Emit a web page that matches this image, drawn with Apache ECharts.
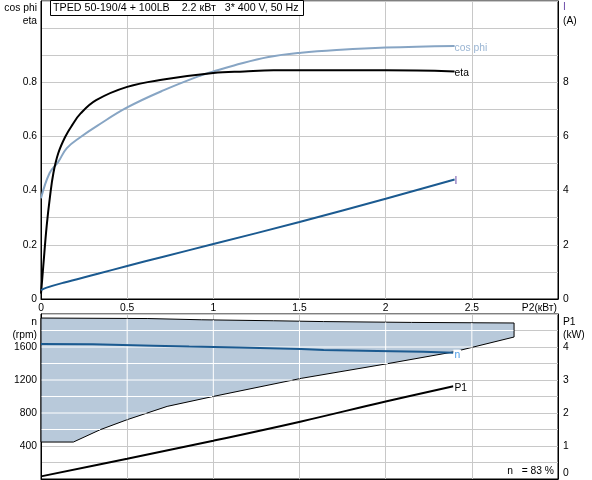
<!DOCTYPE html>
<html>
<head>
<meta charset="utf-8">
<script src="https://cdn.jsdelivr.net/npm/echarts@6/dist/echarts.min.js"></script>
<style>
html, body { margin: 0; padding: 0; background: #fff; }
#chart { width: 592px; height: 480px; }
</style>
</head>
<body>
<div id="chart"></div>
<script>
var FONT = 'Liberation Sans';
var FS = 10.3;

// upper chart: P2 (kW) -> cos phi, eta, I (A)
var p2Cos = [0, 0.05, 0.1, 0.15, 0.23, 0.33, 0.5, 0.71, 0.93, 1.0, 1.12, 1.32, 1.51, 1.74, 2.0, 2.4];
var cosPhi = [0.372, 0.465, 0.506, 0.557, 0.598, 0.641, 0.707, 0.77, 0.826, 0.84, 0.862, 0.893, 0.909, 0.92, 0.928, 0.934];
var p2Eta = [0, 0.013, 0.033, 0.052, 0.072, 0.1, 0.14, 0.18, 0.23, 0.32, 0.5, 0.71, 1.0, 1.18, 1.35, 2.0, 2.4];
var eta = [0.02, 0.12, 0.27, 0.377, 0.465, 0.538, 0.598, 0.641, 0.685, 0.734, 0.783, 0.81, 0.834, 0.84, 0.844, 0.844, 0.84];
var p2Cur = [0, 0.033, 0.13, 0.33, 0.5, 0.71, 1.0, 1.5, 2.0, 2.4];
var current = [0.33, 0.42, 0.6, 0.93, 1.22, 1.56, 2.03, 2.84, 3.7, 4.41];

// lower chart: speed n (rpm), P1 (kW) and the operating range
var p2N = [0, 0.3, 0.65, 0.86, 1.15, 1.51, 1.64, 1.95, 2.22, 2.393];
var speed = [1636, 1632, 1615, 1605, 1593, 1575, 1565, 1553, 1542, 1531];
var p2P1 = [0, 0.5, 1.0, 1.51, 2.0, 2.393];
var p1 = [0.08, 0.615, 1.16, 1.745, 2.35, 2.81];
var rangeTopP2 = [0, 0.62, 0.93, 1.35, 1.64, 2.15, 2.745];
var rangeTopN = [1951, 1945, 1930, 1918, 1908, 1898, 1891];
var rangeLowP2 = [0, 0.188, 0.344, 0.5, 0.732, 1.0, 1.51, 2.0, 2.393, 2.745];
var rangeLowN = [448, 448, 598, 719, 880, 1001, 1220, 1394, 1540, 1721];

// tick labels
var xTicks = ['0', '0.5', '1', '1.5', '2', '2.5'];
var rpmGrid = [600, 800, 1000, 1200, 1400, 1600, 1800];
var etaTicks = ['0', '0.2', '0.4', '0.6', '0.8'];
var curTicks = ['0', '2', '4', '6', '8'];
var rpmTicks = ['400', '800', '1200', '1600'];
var p1Ticks = ['1', '2', '3', '4'];

function pairs(xs, ys) {
  return xs.map(function (x, i) { return [x, ys[i]]; });
}

function interp(xs, ys, x) {
  for (var i = 0; i < xs.length - 1; i++) {
    if (x >= xs[i] && x <= xs[i + 1] && xs[i + 1] > xs[i]) {
      return ys[i] + (ys[i + 1] - ys[i]) * (x - xs[i]) / (xs[i + 1] - xs[i]);
    }
  }
  return x < xs[0] ? ys[0] : ys[ys.length - 1];
}

function tickFmt(list) {
  return function (v) {
    var s = String(Math.round(v * 1000) / 1000);
    return list.indexOf(s) >= 0 ? s : '';
  };
}

// pieces of the grid lines that lie inside the operating range (drawn white there)
function rangeRows() {
  var segs = [];
  var last = rangeLowN.length - 1;
  rpmGrid.forEach(function (r) {
    var xr = r <= rangeLowN[last] ? interp(rangeLowN, rangeLowP2, r) : rangeTopP2[rangeTopP2.length - 1];
    segs.push([0.004, r], [xr - 0.004, r], '-');
  });
  return segs;
}

function rangeCols() {
  var segs = [];
  for (var k = 1; k < xTicks.length; k++) {
    var xv = +xTicks[k];
    segs.push([xv, interp(rangeLowP2, rangeLowN, xv) + 2], [xv, interp(rangeTopP2, rangeTopN, xv) - 2], '-');
  }
  return segs;
}

function rangePoints(api) {
  var pts = [], i;
  for (i = 0; i < rangeTopP2.length; i++) pts.push(api.coord([rangeTopP2[i], rangeTopN[i]]));
  for (i = rangeLowP2.length - 1; i >= 0; i--) pts.push(api.coord([rangeLowP2[i], rangeLowN[i]]));
  return pts;
}

function renderRangeFill(params, api) {
  return { type: 'polygon', shape: { points: rangePoints(api) }, style: { fill: '#b8c9da', stroke: 'none' } };
}

function renderRangeEdge(params, api) {
  var ring = rangePoints(api);
  ring.push(ring[0]);
  return { type: 'polyline', shape: { points: ring }, style: { stroke: '#000', fill: 'none', lineWidth: 1 } };
}

var txt = { fontFamily: FONT, fontSize: FS, color: '#000' };
var gridLine = { lineStyle: { color: '#c8c8c8', width: 1 } };
var blackLine = { lineStyle: { color: '#000', width: 1 } };

function label(s, x, y, align, color, size) {
  return {
    type: 'text', x: x, y: y, z: 20,
    style: { text: s, font: (size || FS) + 'px ' + FONT, fill: color || '#000', align: align, verticalAlign: 'middle' }
  };
}

function endLbl(s, color, bg) {
  return {
    show: true, formatter: s, distance: 1, offset: [-1, 2],
    fontFamily: FONT, fontSize: FS, color: color,
    backgroundColor: bg || 'transparent', padding: bg ? [0, 1] : 0
  };
}

var whiteGrid = { color: '#ffffff', width: 1 };

var chart = echarts.init(document.getElementById('chart'));
chart.setOption({
  animation: false,
  backgroundColor: '#fff',
  grid: [
    { left: 41, right: 34, top: 1, height: 298, show: true, borderColor: '#000', borderWidth: 1 },
    { left: 41, right: 34, top: 314, height: 165, show: true, borderColor: '#000', borderWidth: 1 }
  ],
  xAxis: [
    { gridIndex: 0, type: 'value', min: 0, max: 3, interval: 0.5, axisLine: blackLine, axisTick: { show: false },
      axisLabel: Object.assign({ margin: 4, formatter: tickFmt(xTicks) }, txt), splitLine: gridLine },
    { gridIndex: 1, type: 'value', min: 0, max: 3, interval: 0.5, axisLine: blackLine, axisTick: { show: false },
      axisLabel: { show: false }, splitLine: gridLine }
  ],
  yAxis: [
    { gridIndex: 0, type: 'value', min: 0, max: 1.1, interval: 0.1, axisLine: Object.assign({ show: true }, blackLine),
      axisTick: { show: false }, axisLabel: Object.assign({ margin: 4, formatter: tickFmt(etaTicks) }, txt), splitLine: gridLine },
    { gridIndex: 0, type: 'value', position: 'right', min: 0, max: 11, interval: 1, axisLine: Object.assign({ show: true }, blackLine),
      axisTick: { show: false }, axisLabel: Object.assign({ margin: 5, formatter: tickFmt(curTicks) }, txt), splitLine: { show: false } },
    { gridIndex: 1, type: 'value', min: 0, max: 2000, interval: 200, axisLine: Object.assign({ show: true }, blackLine),
      axisTick: { show: false }, axisLabel: Object.assign({ margin: 4, formatter: tickFmt(rpmTicks) }, txt), splitLine: gridLine },
    { gridIndex: 1, type: 'value', position: 'right', min: 0, max: 5, interval: 0.5, axisLine: Object.assign({ show: true }, blackLine),
      axisTick: { show: false }, axisLabel: Object.assign({ margin: 5, formatter: tickFmt(p1Ticks) }, txt), splitLine: { show: false } }
  ],
  series: [
    { name: 'cos phi', type: 'line', xAxisIndex: 0, yAxisIndex: 0, data: pairs(p2Cos, cosPhi), showSymbol: false,
      smooth: 0.4, lineStyle: { color: '#87a5c4', width: 2 }, endLabel: endLbl('cos phi', '#9ab5d3') },
    { name: 'eta', type: 'line', xAxisIndex: 0, yAxisIndex: 0, data: pairs(p2Eta, eta), showSymbol: false,
      smooth: 0.4, lineStyle: { color: '#000', width: 2 }, endLabel: endLbl('eta', '#000') },
    { name: 'I', type: 'line', xAxisIndex: 0, yAxisIndex: 1, data: pairs(p2Cur, current), showSymbol: false,
      smooth: 0.4, lineStyle: { color: '#1b5a90', width: 2 }, endLabel: endLbl('I', '#6a4aa8') },
    { name: 'range', type: 'custom', xAxisIndex: 1, yAxisIndex: 2, data: [[0, 0]], renderItem: renderRangeFill, silent: true, z: 2 },
    { name: 'rangeRows', type: 'line', xAxisIndex: 1, yAxisIndex: 2, data: rangeRows(), showSymbol: false,
      connectNulls: false, silent: true, z: 3, lineStyle: whiteGrid },
    { name: 'rangeCols', type: 'line', xAxisIndex: 1, yAxisIndex: 2, data: rangeCols(), showSymbol: false,
      connectNulls: false, silent: true, z: 3, lineStyle: whiteGrid },
    { name: 'rangeEdge', type: 'custom', xAxisIndex: 1, yAxisIndex: 2, data: [[0, 0]], renderItem: renderRangeEdge, silent: true, z: 3 },
    { name: 'n', type: 'line', xAxisIndex: 1, yAxisIndex: 2, data: pairs(p2N, speed), showSymbol: false, z: 4,
      lineStyle: { color: '#1b5a90', width: 2 }, endLabel: endLbl('n', '#4d9de6', '#fff') },
    { name: 'P1', type: 'line', xAxisIndex: 1, yAxisIndex: 3, data: pairs(p2P1, p1), showSymbol: false, z: 4,
      smooth: 0.4, lineStyle: { color: '#000', width: 2 }, endLabel: endLbl('P1', '#000', '#fff') }
  ],
  graphic: [
    { type: 'rect', z: 19, shape: { x: 50.5, y: 0.5, width: 253, height: 15 }, style: { fill: '#fff', stroke: '#000', lineWidth: 1 } },
    label('TPED 50-190/4 + 100LB    2.2 кВт   3* 400 V, 50 Hz', 53, 8.5, 'left', '#000', 10.7),
    label('cos phi', 37, 8, 'right'),
    label('eta', 37, 21, 'right'),
    label('I', 563, 7, 'left', '#6a4aa8'),
    label('(A)', 563, 21, 'left'),
    label('P2(кВт)', 557, 308, 'right'),
    label('n', 37, 322, 'right'),
    label('(rpm)', 37, 335, 'right'),
    label('P1', 563, 322, 'left'),
    label('(kW)', 563, 335, 'left'),
    label('0', 563, 473, 'left'),
    label('n   = 83 %', 554, 471, 'right')
  ]
});
</script>
</body>
</html>
